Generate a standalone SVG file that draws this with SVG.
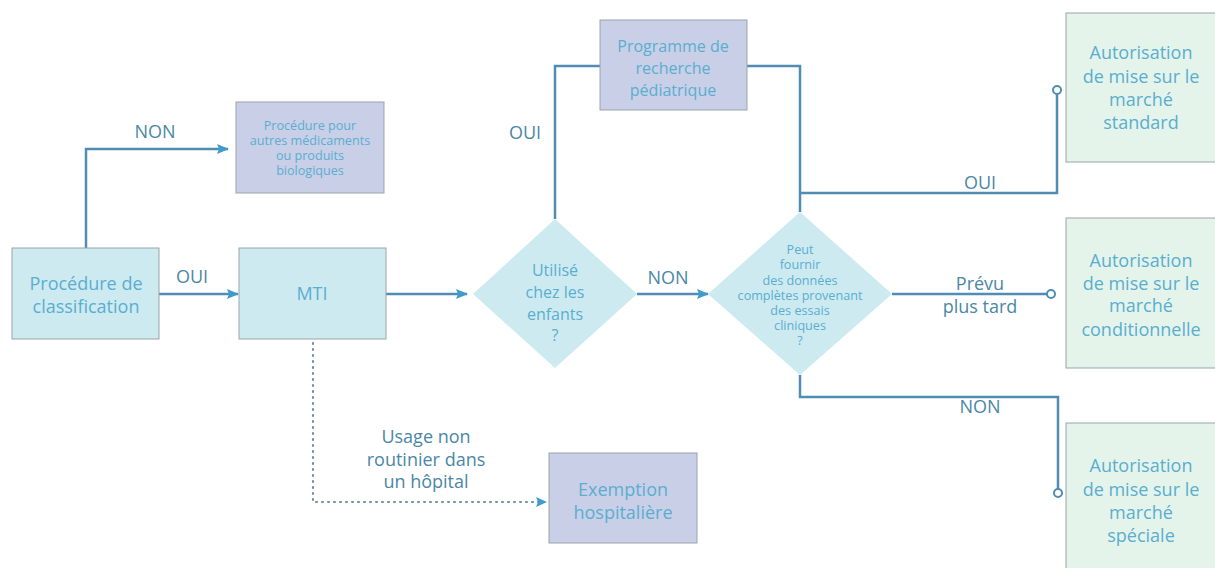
<svg xmlns="http://www.w3.org/2000/svg" width="1215" height="568" viewBox="0 0 1215 568">
  <defs>
    <marker id="arrow" viewBox="0 0 12 10" refX="11" refY="5" markerWidth="12" markerHeight="10" markerUnits="userSpaceOnUse" orient="auto">
      <path d="M0,0 L12,5 L0,10 L2,5 Z" fill="#3e9bcc"/>
    </marker>
    <style>
      .box { stroke: #9aa4ab; stroke-width: 1; }
      .cyan { fill: #cdeaf0; }
      .lav { fill: #c9cfe7; }
      .green { fill: #e4f4ea; }
      .diam { fill: #cdeaf0; stroke: none; }
      .ntext { font-family: "Open Sans", Lato, sans-serif; fill: #5aaed0; text-anchor: middle; }
      .lbl { font-family: "Open Sans", Lato, sans-serif; fill: #4a87a6; text-anchor: middle; font-size: 18px; }
      .line { fill: none; stroke: #4f8db2; stroke-width: 2.5; }
      .dot { fill: none; stroke: #6b8ea5; stroke-width: 2; stroke-dasharray: 1 5; stroke-linecap: round; }
      .end { fill: #ffffff; stroke: #4f8db2; stroke-width: 2; }
    </style>
  </defs>

  <!-- connectors -->
  <g id="connectors">
    <path class="line" d="M86,248 V149 H228" marker-end="url(#arrow)"/>
    <path class="line" d="M159,294 H238" marker-end="url(#arrow)"/>
    <path class="line" d="M386,294 H467" marker-end="url(#arrow)"/>
    <path class="line" d="M555,219 V66 H600"/>
    <path class="line" d="M747,66 H800 V212"/>
    <path class="line" d="M637,294 H708" marker-end="url(#arrow)"/>
    <path class="line" d="M800,193 H1057 V94"/>
    <circle class="end" cx="1057" cy="90" r="4"/>
    <path class="line" d="M892,294 H1047"/>
    <circle class="end" cx="1051" cy="294" r="4"/>
    <path class="line" d="M800,375 V397 H1058 V489"/>
    <circle class="end" cx="1058" cy="493" r="4"/>
    <path class="dot" d="M313,343 V502 H540"/>
    <path d="M536,497 L547,502 L536,507 L538,502 Z" fill="#3e9bcc"/>
  </g>

  <!-- connector labels -->
  <g id="labels">
    <text class="lbl" x="155" y="138">NON</text>
    <text class="lbl" x="192" y="283">OUI</text>
    <text class="lbl" x="525" y="139">OUI</text>
    <text class="lbl" x="668" y="284">NON</text>
    <text class="lbl" x="980" y="189">OUI</text>
    <text class="lbl" x="980" y="290">Prévu</text>
    <text class="lbl" x="980" y="313">plus tard</text>
    <text class="lbl" x="980" y="413">NON</text>
    <text class="lbl" x="426" y="443" font-size="16">Usage non</text>
    <text class="lbl" x="426" y="466" font-size="16">routinier dans</text>
    <text class="lbl" x="426" y="488" font-size="16">un hôpital</text>
  </g>

  <g id="classification">
    <rect class="box cyan" x="12" y="248" width="147" height="91"/>
    <text class="ntext" font-size="18" x="86" y="290">Procédure de</text>
    <text class="ntext" font-size="18" x="86" y="313">classification</text>
  </g>

  <g id="autres-produits">
    <rect class="box lav" x="236" y="102" width="148" height="91"/>
    <text class="ntext" font-size="12.6" x="310" y="130">Procédure pour</text>
    <text class="ntext" font-size="12.6" x="310" y="145">autres médicaments</text>
    <text class="ntext" font-size="12.6" x="310" y="160">ou produits</text>
    <text class="ntext" font-size="12.6" x="310" y="175">biologiques</text>
  </g>

  <g id="mti">
    <rect class="box cyan" x="239" y="248" width="147" height="91"/>
    <text class="ntext" font-size="18" x="312" y="300">MTI</text>
  </g>

  <g id="enfants">
    <polygon class="diam" points="555,219 637,294 555,368 473,294"/>
    <text class="ntext" font-size="16" x="555" y="276">Utilisé</text>
    <text class="ntext" font-size="16" x="555" y="298">chez les</text>
    <text class="ntext" font-size="16" x="555" y="320">enfants</text>
    <text class="ntext" font-size="16" x="555" y="341">?</text>
  </g>

  <g id="programme-pediatrique">
    <rect class="box lav" x="600" y="20" width="147" height="90"/>
    <text class="ntext" font-size="16" x="673" y="52">Programme de</text>
    <text class="ntext" font-size="16" x="673" y="74">recherche</text>
    <text class="ntext" font-size="16" x="673" y="96">pédiatrique</text>
  </g>

  <g id="donnees-completes">
    <polygon class="diam" points="800,212 892,294 800,375 708,294"/>
    <text class="ntext" font-size="12.6" x="800" y="254">Peut</text>
    <text class="ntext" font-size="12.6" x="800" y="269">fournir</text>
    <text class="ntext" font-size="12.6" x="800" y="285">des données</text>
    <text class="ntext" font-size="12.6" x="800" y="300">complètes provenant</text>
    <text class="ntext" font-size="12.6" x="800" y="315">des essais</text>
    <text class="ntext" font-size="12.6" x="800" y="330">cliniques</text>
    <text class="ntext" font-size="12.6" x="800" y="345">?</text>
  </g>

  <g id="amm-standard">
    <rect class="box green" x="1066" y="13" width="155" height="149"/>
    <text class="ntext" font-size="18" x="1141" y="59">Autorisation</text>
    <text class="ntext" font-size="18" x="1141" y="83">de mise sur le</text>
    <text class="ntext" font-size="18" x="1141" y="106">marché</text>
    <text class="ntext" font-size="18" x="1141" y="129">standard</text>
  </g>

  <g id="amm-conditionnelle">
    <rect class="box green" x="1066" y="218" width="155" height="150"/>
    <text class="ntext" font-size="18" x="1141" y="267">Autorisation</text>
    <text class="ntext" font-size="18" x="1141" y="290">de mise sur le</text>
    <text class="ntext" font-size="18" x="1141" y="312">marché</text>
    <text class="ntext" font-size="18" x="1141" y="336">conditionnelle</text>
  </g>

  <g id="amm-speciale">
    <rect class="box green" x="1066" y="423" width="155" height="150"/>
    <text class="ntext" font-size="18" x="1141" y="472">Autorisation</text>
    <text class="ntext" font-size="18" x="1141" y="496">de mise sur le</text>
    <text class="ntext" font-size="18" x="1141" y="519">marché</text>
    <text class="ntext" font-size="18" x="1141" y="542">spéciale</text>
  </g>

  <g id="exemption-hospitaliere">
    <rect class="box lav" x="549" y="453" width="148" height="90"/>
    <text class="ntext" font-size="18" x="623" y="496">Exemption</text>
    <text class="ntext" font-size="18" x="623" y="519">hospitalière</text>
  </g>
</svg>
